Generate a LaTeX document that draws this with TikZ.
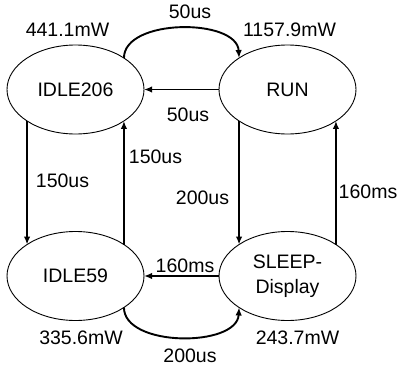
\documentclass[tikz,border=0pt]{standalone}
\usepackage{fontspec}
\setmainfont{Liberation Sans}
\usetikzlibrary{arrows.meta,shapes.geometric}
\begin{document}
\begin{tikzpicture}[x=1pt,y=-1pt,
  state/.style={ellipse,draw,line width=0.9pt,minimum width=137pt,minimum height=89pt,inner sep=0pt,outer sep=0pt,align=center,font=\fontsize{19.5}{25}\selectfont},
  lbl/.style={inner sep=0pt,font=\fontsize{19.5}{23}\selectfont},
  conn/.style={line width=1.9pt,-{Latex[length=8pt,width=6.5pt]}}]
\useasboundingbox (0,0) rectangle (400,370);
\node[state] (A) at (75.5,89.5) {IDLE206};
\node[state] (B) at (287.5,89.5) {RUN};
\node[state] (C) at (75.5,276) {IDLE59};
\node[state] (D) at (287.5,276) {SLEEP-\\Display};
% connectors
\draw[conn] (A.33) .. controls +(0,-40) and +(-2,-40) .. (B.147);
\draw[conn] (B.west) -- (A.east);
\draw[conn] (A.-147) -- (C.147);
\draw[conn] (C.33) -- (A.-33);
\draw[conn] (B.-147) -- (D.147);
\draw[conn] (D.33) -- (B.-33);
\draw[conn] (D.west) -- (C.east);
\draw[conn] (C.-33) .. controls +(0,40) and +(-2,40) .. (D.-147);
% labels
\node[lbl] (l1) at (190,12) {50us};
\node[lbl] (l2) at (188,115) {50us};
\node[lbl] (l3) at (62.5,181) {150us};
\node[lbl] (l4) at (155.5,157) {150us};
\node[lbl] (l5) at (202.5,198) {200us};
\node[lbl] (l6) at (368,192) {160ms};
\node[lbl] (l7) at (185,266) {160ms};
\node[lbl] (l8) at (190,356) {200us};
\node[lbl] (p1) at (67.5,30) {441.1mW};
\node[lbl] (p2) at (289.5,30) {1157.9mW};
\node[lbl] (p3) at (81,338) {335.6mW};
\node[lbl] (p4) at (297.5,338) {243.7mW};
\end{tikzpicture}
\end{document}
